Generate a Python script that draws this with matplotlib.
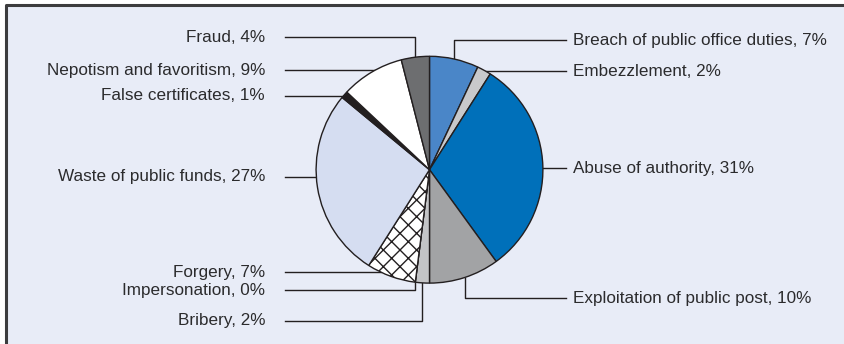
import numpy as np
import matplotlib
matplotlib.use("Agg")
import matplotlib.pyplot as plt
from matplotlib.patches import Rectangle

plt.rcParams['font.family'] = ['Liberation Sans Narrow', 'Liberation Sans', 'DejaVu Sans']
plt.rcParams['hatch.linewidth'] = 1.0

# data, clockwise from 12 o'clock
labels = ["Breach of public office duties", "Embezzlement", "Abuse of authority",
          "Exploitation of public post", "Bribery", "Impersonation", "Forgery",
          "Waste of public funds", "False certificates", "Nepotism and favoritism", "Fraud"]
values = [7, 2, 31, 10, 2, 0, 7, 27, 1, 9, 4]
colors = ["#4a86c8", "#c8c9cb", "#0070ba", "#a2a3a5", "#c3c4c6", "#c3c4c6", "#ffffff",
          "#d5ddf1", "#231f20", "#ffffff", "#6d6e70"]
hatches = [None, None, None, None, None, None, "xx", None, None, None, None]

# label placement: side, label y (px from top), leader style
label_side = ["R", "R", "R", "R", "L", "L", "L", "L", "L", "L", "L"]
label_y = [40, 71, 168, 298, 321, 290, 272, 177, 96, 70, 37]
leader = ["elbow", "h", "h", "elbow", "elbow", "elbow", "h", "h", "h", "h", "elbow"]

W, H = 844, 344
cx, cy, r = 429.5, 169.7, 113.4
txt_color = "#2b2b2d"

fig = plt.figure(figsize=(W / 100, H / 100), dpi=100)
fig.patch.set_facecolor("white")

# overlay in pixel coords
ov = fig.add_axes([0, 0, 1, 1])
ov.set_xlim(0, W)
ov.set_ylim(H, 0)
ov.axis("off")
ov.add_patch(Rectangle((5.5, 4.5), W, H, facecolor="#e8ecf7", edgecolor="none", zorder=0))
ov.plot([5.5, 5.5, W], [H, 4.5, 4.5], color="#3c3c3e", lw=2.2, zorder=1, solid_capstyle="butt")

pax = fig.add_axes([(cx - r) / W, (H - cy - r) / H, 2 * r / W, 2 * r / H])
wedges, _ = pax.pie(values, colors=colors, startangle=90, counterclock=False,
                    wedgeprops=dict(edgecolor="#231f20", linewidth=1.0))
for w, h in zip(wedges, hatches):
    if h:
        w.set_hatch(h)
pax.set_xlim(-1, 1)
pax.set_ylim(-1, 1)
pax.set_aspect("auto")
pax.axis("off")

x_left_line, x_left_text = 285, 265
x_right_line, x_right_text = 566, 573

for w, lab, v, side, ly, style in zip(wedges, labels, values, label_side, label_y, leader):
    mid = np.deg2rad((w.theta1 + w.theta2) / 2)
    if style == "elbow":
        ax_ = cx + r * np.cos(mid)
        ay_ = cy - r * np.sin(mid)
        xs_end = [ax_, ax_]
        ys_end = [ly, ay_]
    else:
        dx = np.sqrt(max(r ** 2 - (ly - cy) ** 2, 0))
        ex = cx + dx if side == "R" else cx - dx
        xs_end = [ex]
        ys_end = [ly]
    if side == "R":
        xs = [x_right_line] + xs_end
        ov.text(x_right_text, ly, f"{lab}, {v}%", ha="left", va="center",
                fontsize=12.3, color=txt_color)
    else:
        xs = [x_left_line] + xs_end
        ov.text(x_left_text, ly, f"{lab}, {v}%", ha="right", va="center",
                fontsize=12.3, color=txt_color)
    ys = [ly] + ys_end
    ov.plot(xs, ys, color="#231f20", lw=1.0, zorder=3)

fig.savefig("out.png", dpi=100)
